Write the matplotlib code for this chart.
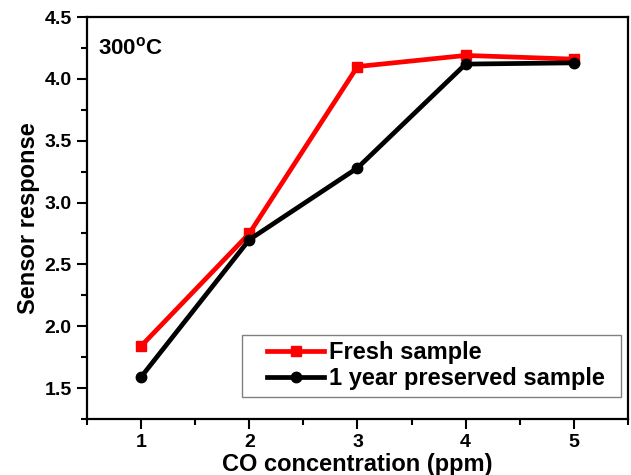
import matplotlib
matplotlib.use("Agg")
import matplotlib.pyplot as plt
from matplotlib.patches import Rectangle
from matplotlib.ticker import MultipleLocator, FormatStrFormatter

# CO concentration (ppm) and sensor response at 300 C
conc = [1, 2, 3, 4, 5]
fresh = [1.84, 2.75, 4.10, 4.19, 4.16]
preserved = [1.59, 2.70, 3.28, 4.12, 4.13]

plt.rcParams['font.family'] = ['Liberation Sans', 'DejaVu Sans']
plt.rcParams['font.weight'] = 'bold'

fig = plt.figure(figsize=(6.31, 4.75), dpi=100)
ax = fig.add_axes([0.138, 0.118, 0.857, 0.846])

ax.plot(conc, fresh, color='red', lw=3.4, marker='s', ms=6.5, label='Fresh sample')
ax.plot(conc, preserved, color='black', lw=3.4, marker='o', ms=7.5, label='1 year preserved sample')

ax.set_xlim(0.5, 5.5)
ax.set_ylim(1.25, 4.5)
ax.xaxis.set_major_locator(MultipleLocator(1))
ax.xaxis.set_minor_locator(MultipleLocator(0.5))
ax.yaxis.set_major_locator(MultipleLocator(0.5))
ax.yaxis.set_minor_locator(MultipleLocator(0.25))
ax.yaxis.set_major_formatter(FormatStrFormatter('%.1f'))
ax.tick_params(which='major', direction='out', length=7, width=1.5, labelsize=14, pad=4)
ax.tick_params(which='minor', direction='out', length=4, width=1.5)
for s in ax.spines.values():
    s.set_linewidth(1.6)

ax.set_xlabel('CO concentration (ppm)', fontsize=17, fontweight='bold', labelpad=1)
ax.set_ylabel('Sensor response', fontsize=17, fontweight='bold', labelpad=3)

ax.text(0.02, 0.95, '300$^{\\mathregular{o}}$C', transform=ax.transAxes,
        fontsize=16, fontweight='bold', va='top', ha='left')

# legend entries without their own frame, box drawn wider on the left
leg = ax.legend(loc='lower left', bbox_to_anchor=(0.32, 0.055), fontsize=17,
                frameon=False, handlelength=2.4, borderaxespad=0,
                handletextpad=0.2, labelspacing=0.1, borderpad=0.3)
ax.add_patch(Rectangle((0.2865, 0.0547), 0.7006, 0.154, transform=ax.transAxes,
                       fill=False, edgecolor='gray', lw=1.0, zorder=5))

fig.savefig('out.png', dpi=100)
